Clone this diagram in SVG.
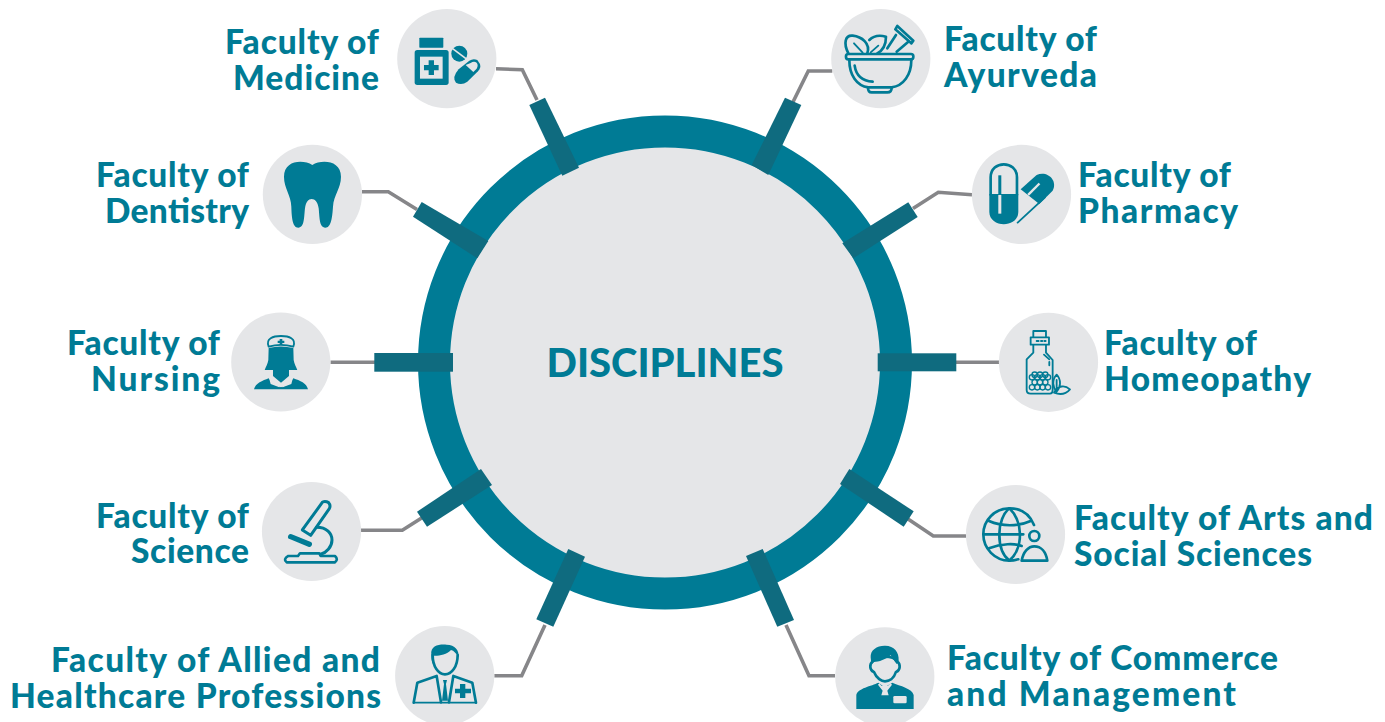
<svg xmlns="http://www.w3.org/2000/svg" width="1385" height="722" viewBox="0 0 1385 722">
<style>
.t{font-family:"Lato","Open Sans","Liberation Sans",sans-serif;font-weight:900;font-size:33.5px;fill:#007b95}
.b{fill:#e5e6e8}
.tab{fill:#0f6b7f}
.c{fill:none;stroke:#868689;stroke-width:3.6}
.f{fill:#007b95}
.g{fill:#e5e6e8}
.s{fill:none;stroke:#007b95;stroke-width:8;stroke-linecap:round;stroke-linejoin:round}
.s2{fill:none;stroke:#007b95;stroke-width:5.5;stroke-linecap:round;stroke-linejoin:round}
</style>
<g id="connectors">
<path class="c" d="M496 68.8L522.3 69.7L537 100"/>
<path class="c" d="M362 191.7H388.3L417 209.5"/>
<path class="c" d="M330.5 362.3H375"/>
<path class="c" d="M361 530.3H402.3L422 517.7"/>
<path class="c" d="M494.3 675.7H521.7L545 625"/>
<path class="c" d="M835 675.7H809L786 625"/>
<path class="c" d="M966 536H933.3L908 519"/>
<path class="c" d="M999 362.3H956"/>
<path class="c" d="M972 194.7L938.3 192.3L913 208.5"/>
<path class="c" d="M832.3 71H808.3L793 102"/>
</g>
<g id="hub">
<circle cx="665" cy="362.5" r="231" fill="#e5e6e8" stroke="#007b95" stroke-width="32"/>
<text x="665" y="377" text-anchor="middle" textLength="237" lengthAdjust="spacingAndGlyphs" style="font-family:'Lato','Open Sans','Liberation Sans',sans-serif;font-weight:900;font-size:39px;fill:#007b95">DISCIPLINES</text>
</g>
<g id="tabs">
<polygon class="tab" points="529.3,105 545,97.7 579,167.7 562.3,175.7"/>
<polygon class="tab" points="421.7,202 488.3,241 477.3,258.3 413,216.7"/>
<rect class="tab" x="374.3" y="353" width="78.7" height="18.7"/>
<polygon class="tab" points="417,511.7 481,469 492,485 427,526.7"/>
<polygon class="tab" points="568.3,549 585,556.7 553.3,626.7 536.3,619.3"/>
<polygon class="tab" points="746,556 762.7,549 794,620 777.3,626.7"/>
<polygon class="tab" points="849.3,469 913.7,511.3 903.7,526.7 840,484"/>
<rect class="tab" x="877.7" y="353.3" width="78.6" height="18"/>
<polygon class="tab" points="908.3,202.3 917.7,217 853.3,258.3 842.3,243.3"/>
<polygon class="tab" points="785,97.7 801.3,105 768.3,175 751.7,165"/>
</g>

<g id="medicine">
<circle class="b" cx="446.8" cy="58.7" r="49.6"/>
<text class="t" x="379" y="53.5" text-anchor="end" textLength="154">Faculty of</text>
<text class="t" x="379" y="89.5" text-anchor="end" textLength="146">Medicine</text>
<g transform="translate(220 0) scale(.3333)">
<rect class="f" x="598" y="113" width="72" height="30" rx="2"/>
<rect class="f" x="584" y="150" width="102" height="105" rx="8"/>
<rect class="g" x="600" y="170" width="68" height="66"/>
<path class="f" d="M626 181h16v14h14v16h-14v14h-16v-14h-14v-16h14z"/>
<circle class="f" cx="718" cy="161" r="24"/>
<path d="M698 146L738 176" stroke="#e5e6e8" stroke-width="5"/>
<path class="f" d="M716 208L748 182Q760 174 772 180L780 192Q784 204 774 214L742 245Q725 258 708 248Q695 232 716 208Z"/>
<path class="g" d="M752 189Q762 182 770 188Q776 196 770 206L760 216L737 195Z"/>
</g>
</g>

<g id="dentistry">
<circle class="b" cx="312.4" cy="194.4" r="49.6"/>
<text class="t" x="249" y="186.5" text-anchor="end" textLength="153">Faculty of</text>
<text class="t" x="249" y="222.5" text-anchor="end" textLength="144">Dentistry</text>
<g transform="translate(220 0) scale(.3333)">
<path class="f" d="M277 495C250 478 192 480 192 530C192 565 213 585 214 620C215 650 217 683 235 683C254 683 252 650 255 625C258 605 265 597 275 597C285 597 293 605 296 625C299 650 297 683 316 683C334 683 337 650 339 620C341 585 363 565 363 530C363 480 304 478 277 495Z"/>
</g>
</g>

<g id="nursing">
<circle class="b" cx="280.8" cy="362" r="49.6"/>
<text class="t" x="220" y="354.5" text-anchor="end" textLength="153">Faculty of</text>
<text class="t" x="220" y="390.5" text-anchor="end" textLength="129">Nursing</text>
<g transform="translate(220 310) scale(.3333)">
<path class="s2" d="M146 110C136 85 160 78 183 78C206 78 230 85 220 110C195 103 170 103 146 110Z"/>
<path class="f" d="M146 114C170 108 195 108 220 114L221 150C223 162 228 170 232 180L207 180L207 198L183 218L159 198L159 180L134 180C138 170 143 162 145 150Z"/>
<path class="f" d="M179 87h8v5h6v7h-6v6h-8v-6h-6v-7h6z"/>
<path class="f" d="M102 238C106 220 128 212 146 205L160 223L183 232L206 223L220 205C240 212 260 220 264 238Z"/>
<path class="g" d="M147 203L152 222L178 232L183 222L165 214L156 196Z"/>
<path class="g" d="M219 203L214 222L188 232L183 222L201 214L210 196Z"/>
</g>
</g>

<g id="science">
<circle class="b" cx="311.5" cy="531.5" r="49.6"/>
<text class="t" x="249" y="527.5" text-anchor="end" textLength="153">Faculty of</text>
<text class="t" x="249" y="562.5" text-anchor="end" textLength="118">Science</text>
<g transform="translate(220 310) scale(.3333)">
<path class="s" style="stroke-width:9" d="M247 660L308 576Q316 572 326 578Q333 586 328 596L272 676Z"/>
<path d="M212 680L268 703" stroke="#007b95" stroke-width="16" stroke-linecap="round"/>
<path class="s" style="stroke-width:9" d="M290 652C320 652 336 670 336 690C336 710 320 728 302 733"/>
<path class="s" d="M200 757H345Q356 748 345 738H302L298 730H240L234 738H205Q188 748 200 757Z"/>
</g>
</g>

<g id="allied">
<circle class="b" cx="444.7" cy="675.7" r="49.6"/>
<text class="t" x="380" y="671.5" text-anchor="end" textLength="329">Faculty of Allied and</text>
<text class="t" x="381" y="707.5" text-anchor="end" textLength="371">Healthcare Professions</text>
<g transform="translate(380 540) scale(.3333)">
<path class="s" d="M158 345C158 380 175 403 195 403C215 403 233 380 233 345"/>
<path class="f" d="M154 345C150 315 180 312 200 314C225 315 238 330 236 352C228 340 222 332 213 330C200 345 175 348 160 347L158 372C155 365 154 355 154 345Z"/>
<path class="s" d="M101 488L112 428L170 408L183 487"/>
<path class="s" d="M288 488L277 428L220 408L207 487"/>
<path d="M99 488H291" stroke="#007b95" stroke-width="5"/>
<path class="f" d="M189 420h12l-3 12l6 50h-18l6-50z"/>
<path class="f" d="M240 432h16v14h17v14h-17v14h-16v-14h-15v-14h15z"/>
</g>
</g>

<g id="ayurveda">
<circle class="b" cx="880.8" cy="58.7" r="49.6"/>
<text class="t" x="944" y="50.5" textLength="153">Faculty of</text>
<text class="t" x="944" y="86.5" textLength="153">Ayurveda</text>
<g transform="translate(750 0) scale(.3333)">
<path class="s" d="M295 160C280 130 285 105 308 107C335 110 362 130 352 160"/>
<path class="s2" d="M312 130L338 158"/>
<path class="s" d="M358 120C370 108 390 105 408 110C408 130 400 150 382 160"/>
<path class="s2" d="M362 157L385 137"/>
<path class="s" d="M412 145L438 105M440 155L475 125"/>
<path class="s" d="M442 78L490 122L484 130L436 88Z"/>
<rect x="288" y="162" width="202" height="16" rx="7" class="s"/>
<path class="s" d="M298 180C298 225 320 258 355 262H425C460 258 484 225 484 180"/>
<path class="s" d="M314 197C318 225 335 243 368 245"/>
<path class="s" d="M354 263Q354 277 365 277H412Q425 277 425 263"/>
</g>
</g>

<g id="pharmacy">
<circle class="b" cx="1021.5" cy="194.4" r="49.6"/>
<text class="t" x="1078" y="186.5" textLength="153">Faculty of</text>
<text class="t" x="1078" y="222.5" textLength="160">Pharmacy</text>
<g transform="translate(750 0) scale(.3333)">
<path class="s" d="M722 584V532C722 480 801 480 801 532V584"/>
<path class="f" d="M718 582H805V635C805 685 718 685 718 635Z"/>
<rect class="f" x="745" y="526" width="9" height="58"/>
<rect class="g" x="745" y="585" width="9" height="56"/>
<path class="f" d="M812 568L860 525C890 510 925 540 908 572L868 612Z"/>
<path class="g" d="M832 582L866 548L871 553L837 587Z"/>
<path class="s2" d="M803 668L885 592"/>
</g>
</g>

<g id="homeopathy">
<circle class="b" cx="1048.5" cy="362.3" r="49.6"/>
<text class="t" x="1104" y="354.5" textLength="153">Faculty of</text>
<text class="t" x="1104" y="390.5" textLength="207">Homeopathy</text>
<g transform="translate(840 300) scale(.3333)">
<path class="s2" d="M580 110V93H618V110"/>
<rect class="s2" x="572" y="112" width="55" height="22"/>
<path class="s2" d="M590 123h6M603 123h4M613 123h4"/>
<path class="s2" d="M580 135V158L560 178V270Q560 281 572 281H630Q638 281 638 270V180L618 158V135"/>
<path class="s2" d="M612 164L628 178M628 186V196"/>
<g class="s2" style="stroke-width:4">
<circle cx="576" cy="232" r="8"/><circle cx="592" cy="232" r="8"/><circle cx="608" cy="232" r="8"/><circle cx="624" cy="232" r="8"/>
<circle cx="584" cy="247" r="8"/><circle cx="600" cy="247" r="8"/><circle cx="616" cy="247" r="8"/>
<circle cx="576" cy="262" r="8"/><circle cx="592" cy="262" r="8"/><circle cx="608" cy="262" r="8"/><circle cx="624" cy="262" r="8"/>
<circle cx="584" cy="224" r="8"/><circle cx="600" cy="224" r="8"/><circle cx="616" cy="224" r="8"/>
</g>
<path class="s2" d="M650 224C635 240 638 262 650 275C662 262 665 240 650 224ZM650 240V275M642 278C655 255 675 255 690 268C678 282 660 285 642 278Z"/>
</g>
</g>

<g id="arts">
<circle class="b" cx="1015.5" cy="534.5" r="49.6"/>
<text class="t" x="1074" y="529.5" textLength="299">Faculty of Arts and</text>
<text class="t" x="1074" y="565.5" textLength="238">Social Sciences</text>
<g transform="translate(840 300) scale(.3333)">
<path class="s" d="M582 675C570 645 545 625 508 625C465 625 430 660 430 703C430 746 465 782 508 782C515 782 525 781 535 778"/>
<path class="s" d="M508 625C490 640 478 670 478 703C478 740 490 768 508 782C525 768 540 740 540 703C540 670 525 640 508 625Z"/>
<path class="s" d="M432 703H550M447 663C485 680 535 680 572 663M447 745C485 730 525 730 545 738"/>
<circle class="s" cx="583" cy="708" r="15"/>
<path class="s" d="M545 782C550 755 565 739 583 739C603 739 618 755 622 782Z"/>
</g>
</g>

<g id="commerce">
<circle class="b" cx="884.8" cy="676.8" r="49.6"/>
<text class="t" x="947" y="669.5" textLength="331">Faculty of Commerce</text>
<text class="t" x="947" y="705.5" textLength="289">and Management</text>
<g transform="translate(740 540) scale(.3333)">
<path class="g" style="stroke:#007b95;stroke-width:8;stroke-linejoin:round" d="M398 365C388 372 388 392 402 396C410 416 425 424 435 424C447 424 462 416 468 396C482 392 482 372 472 365C460 345 410 345 398 365Z"/>
<path class="f" d="M392 352C390 330 412 316 436 317C462 318 478 335 476 362L470 372C462 362 456 352 452 345C440 358 415 366 402 366L394 372Z"/>
<path class="f" d="M349 507V465C352 445 395 438 415 428L434 442L457 428C480 438 517 445 521 465V507Z"/>
<path class="g" d="M418 430L424 437H444L452 430L456 434L442 452L446 466H424L428 452L414 434Z"/>
<rect class="g" x="460" y="468" width="40" height="22" rx="4"/>
</g>
</g>
</svg>
